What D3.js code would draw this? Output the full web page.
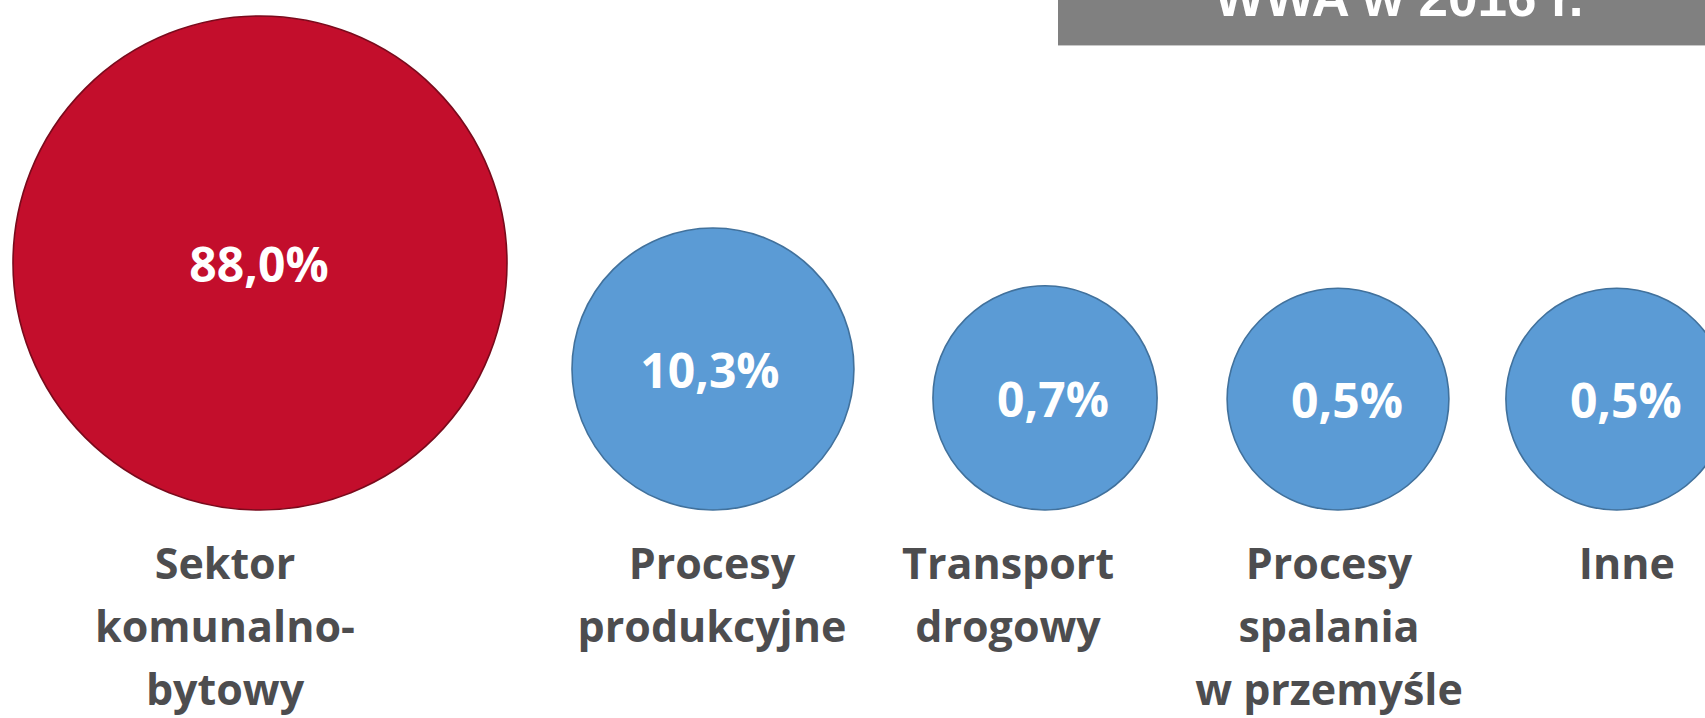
<!DOCTYPE html>
<html lang="pl">
<head>
<meta charset="utf-8">
<script src="https://cdn.jsdelivr.net/npm/d3@7"></script>
<style>
  html, body { margin: 0; padding: 0; background: #ffffff; }
  svg { display: block; }
</style>
</head>
<body>
<svg id="chart" width="1705" height="718"></svg>
<script>
// Źródła emisji WWA – udział procentowy sektorów
const title = "WWA w 2016 r.";
const categories = [
  ["Sektor", "komunalno-", "bytowy"],
  ["Procesy", "produkcyjne"],
  ["Transport", "drogowy"],
  ["Procesy", "spalania", "w przemyśle"],
  ["Inne"]
];
const shares = [88.0, 10.3, 0.7, 0.5, 0.5];

// Layout constants
const W = 1705, H = 718;
const baseY = 510;               // bubbles sit on a common bottom line
const startX = 13;               // left edge of the first bubble
const gaps = [65, 79, 70, 57];   // space between neighbouring bubbles
const labelDx = [-35, -1, -37, -9, 10];
const valueDx = [-1, -3, 8, 9, 9];
const labelY0 = 579, labelStep = 63;

const pl = d3.formatLocale({ decimal: ",", thousands: " ", grouping: [3], currency: ["", " zł"] });
const fmt = v => pl.format(".1f")(v) + "%";

const rScale = d3.scalePow().exponent(0.65).domain([0, d3.max(shares)]).range([106, 247]);
const color = d3.scaleOrdinal().domain(["max", "rest"]).range(["#c30e2c", "#5b9bd5"]);
const stroke = d3.scaleOrdinal().domain(["max", "rest"]).range(["#7a0a1c", "#41719c"]);
const maxShare = d3.max(shares);

// bubble centres laid out left to right
let x = startX;
const nodes = shares.map((v, i) => {
  const r = rScale(v);
  const cx = x + r;
  x = cx + r + (gaps[i] || 0);
  return { i, v, r, cx, cy: baseY - r, kind: v === maxShare ? "max" : "rest", lines: categories[i] };
});

const svg = d3.select("#chart");

// title box in the top-right corner
const tg = svg.append("g");
tg.append("rect")
  .attr("x", 1058).attr("y", -10).attr("width", 700).attr("height", 55)
  .attr("fill", "#808080");
tg.append("line")
  .attr("x1", 1058).attr("x2", W).attr("y1", 45.5).attr("y2", 45.5)
  .attr("stroke", "#c8c8c8").attr("stroke-width", 1);
tg.append("text")
  .attr("x", 1399).attr("y", 16)
  .attr("text-anchor", "middle")
  .attr("font-family", "'Liberation Sans', Arial, sans-serif")
  .attr("font-weight", 700).attr("font-size", 53)
  .attr("fill", "#ffffff")
  .text(title);

// bubbles
const g = svg.append("g").selectAll("g").data(nodes).join("g");

g.append("circle")
  .attr("cx", d => d.cx).attr("cy", d => d.cy).attr("r", d => d.r)
  .attr("fill", d => color(d.kind))
  .attr("stroke", d => stroke(d.kind))
  .attr("stroke-width", 1.6);

g.append("text")
  .attr("x", d => d.cx + valueDx[d.i])
  .attr("y", d => d.cy + 19)
  .attr("text-anchor", "middle")
  .attr("font-family", "'Open Sans', 'Noto Sans', sans-serif")
  .attr("font-weight", 700).attr("font-size", 48)
  .attr("fill", "#ffffff")
  .text(d => fmt(d.v));

// category names under each bubble
g.append("text")
  .attr("text-anchor", "middle")
  .attr("font-family", "'Open Sans', 'Noto Sans', sans-serif")
  .attr("font-weight", 700).attr("font-size", 43)
  .attr("fill", "#4d4d4f")
  .selectAll("tspan")
  .data(d => d.lines.map((t, k) => ({ t, k, x: d.cx + labelDx[d.i] })))
  .join("tspan")
  .attr("x", l => l.x)
  .attr("y", l => labelY0 + l.k * labelStep)
  .text(l => l.t);
</script>
</body>
</html>
